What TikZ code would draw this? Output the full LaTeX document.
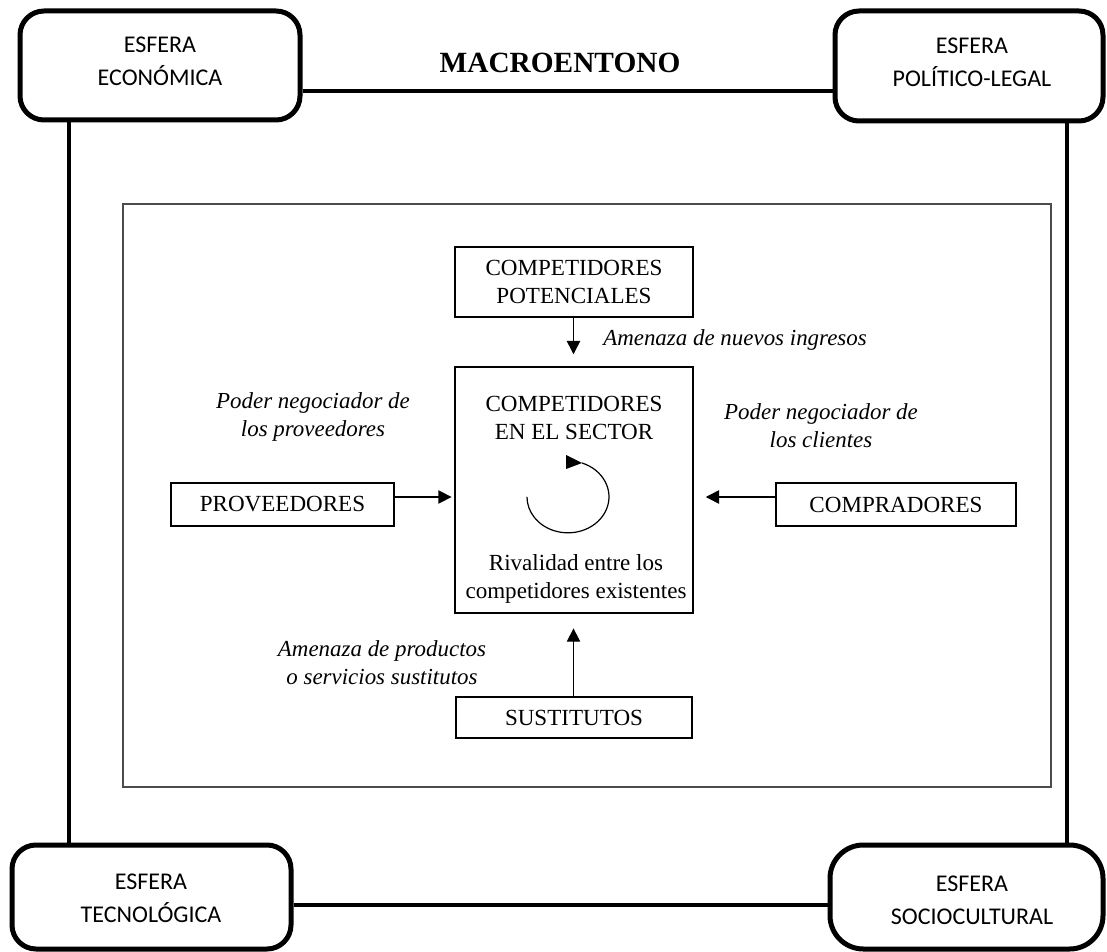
\documentclass[tikz,border=0pt]{standalone}
\usepackage{fontspec}
\setmainfont{Liberation Serif}
\newfontfamily\calib{Carlito}
\usetikzlibrary{arrows.meta}
\tikzset{
  esfera/.style={draw, line width=3.75pt, rounded corners=18pt, inner sep=0pt},
  esftxt/.style={align=center, inner sep=0pt, font=\calib\fontsize{18}{24.75}\selectfont},
  box/.style={draw, line width=1.1pt, inner sep=0pt, align=center, font=\fontsize{17.3}{21}\selectfont},
  itxt/.style={align=center, inner sep=0pt, font=\itshape\fontsize{17.2}{21}\selectfont},
  conn/.style={line width=2.4pt},
  arr/.style={line width=1.1pt, -{Triangle[length=10pt,width=10pt]}},
}
\begin{document}
\begin{tikzpicture}[x=0.75pt,y=-0.75pt]
\useasboundingbox (0,0) rectangle (1107,952);
% corner spheres
\node[esfera, minimum width=210pt, minimum height=81.75pt] (eco) at (160,65.5) {};
\node[esfera, minimum width=201pt, minimum height=82.5pt] (pol) at (969,66) {};
\node[esfera, minimum width=209.25pt, minimum height=78pt] (tec) at (151.5,897) {};
\node[esfera, rounded corners=25pt, minimum width=204.75pt, minimum height=78pt] (soc) at (966.5,897) {};
\node[esftxt] (ecot) at (160,61) {ESFERA\\ECONÓMICA};
\node[esftxt] (polt) at (972,62.5) {ESFERA\\POLÍTICO-LEGAL};
\node[esftxt] (tect) at (151,898.5) {ESFERA\\TECNOLÓGICA};
\node[esftxt] (soct) at (972,900.5) {ESFERA\\SOCIOCULTURAL};
\node[font=\bfseries\fontsize{22}{26}\selectfont, inner sep=0pt] (macro) at (560,63) {MACROENTONO};
% connector helpers
\coordinate (htop) at (0,91);
\coordinate (hbot) at (0,905);
\coordinate (vl) at (69,0);
\coordinate (vr) at (1067,0);
\draw[conn] (eco.east |- htop) -- (pol.west |- htop);
\draw[conn] (tec.east |- hbot) -- (soc.west |- hbot);
\draw[conn] (eco.south -| vl) -- (tec.north -| vl);
\draw[conn] (pol.south -| vr) -- (soc.north -| vr);
% inner frame
\node[draw=black!70, line width=1.4pt, minimum width=696pt, minimum height=437.25pt, inner sep=0pt] (sector) at (587,495.5) {};
% boxes
\node[box, minimum width=178.5pt, minimum height=52.5pt] (pot) at (574,282) {COMPETIDORES\\POTENCIALES};
\node[box, minimum width=178.5pt, minimum height=184.5pt] (cen) at (574,490) {};
\node[align=center, inner sep=0pt, font=\fontsize{17.3}{21}\selectfont] (cent) at (574,418) {COMPETIDORES\\EN EL SECTOR};
\node[align=center, inner sep=0pt, font=\fontsize{17.3}{21}\selectfont] (riv) at (576,579) {Rivalidad entre los\\competidores existentes};
\node[box, minimum width=167.25pt, minimum height=32.25pt] (prov) at (282.5,504.5) {PROVEEDORES};
\node[box, minimum width=180pt, minimum height=32.25pt] (comp) at (896,504.5) {COMPRADORES};
\node[box, minimum width=177pt, minimum height=30.75pt] (sust) at (574,717.5) {SUSTITUTOS};
% labels
\node[itxt, anchor=west] (amn) at (603,340) {Amenaza de nuevos ingresos};
\node[itxt] (pprov) at (313,417) {Poder negociador de\\los proveedores};
\node[itxt] (pcli) at (821,426) {Poder negociador de\\los clientes};
\node[itxt] (amp) at (382,663) {Amenaza de productos\\o servicios sustitutos};
% arrows
\coordinate (ha) at (0,497);
\coordinate (vc) at (573.5,0);
\draw[arr] (pot.south -| vc) -- ([yshift=9pt]cen.north -| vc);
\draw[arr] (sust.north -| vc) -- ([yshift=-11pt]cen.south -| vc);
\draw[arr] (prov.east |- ha) -- ([xshift=-2pt]cen.west |- ha);
\draw[arr] (comp.west |- ha) -- ([xshift=9pt]cen.east |- ha);
% rivalry circular arrow
\draw[line width=0.9pt] (582,463) arc[start angle=70, end angle=-180, x radius=30.75pt, y radius=27pt];
\fill (566,455) -- (566,469) -- (582,463) -- cycle;
\end{tikzpicture}
\end{document}
